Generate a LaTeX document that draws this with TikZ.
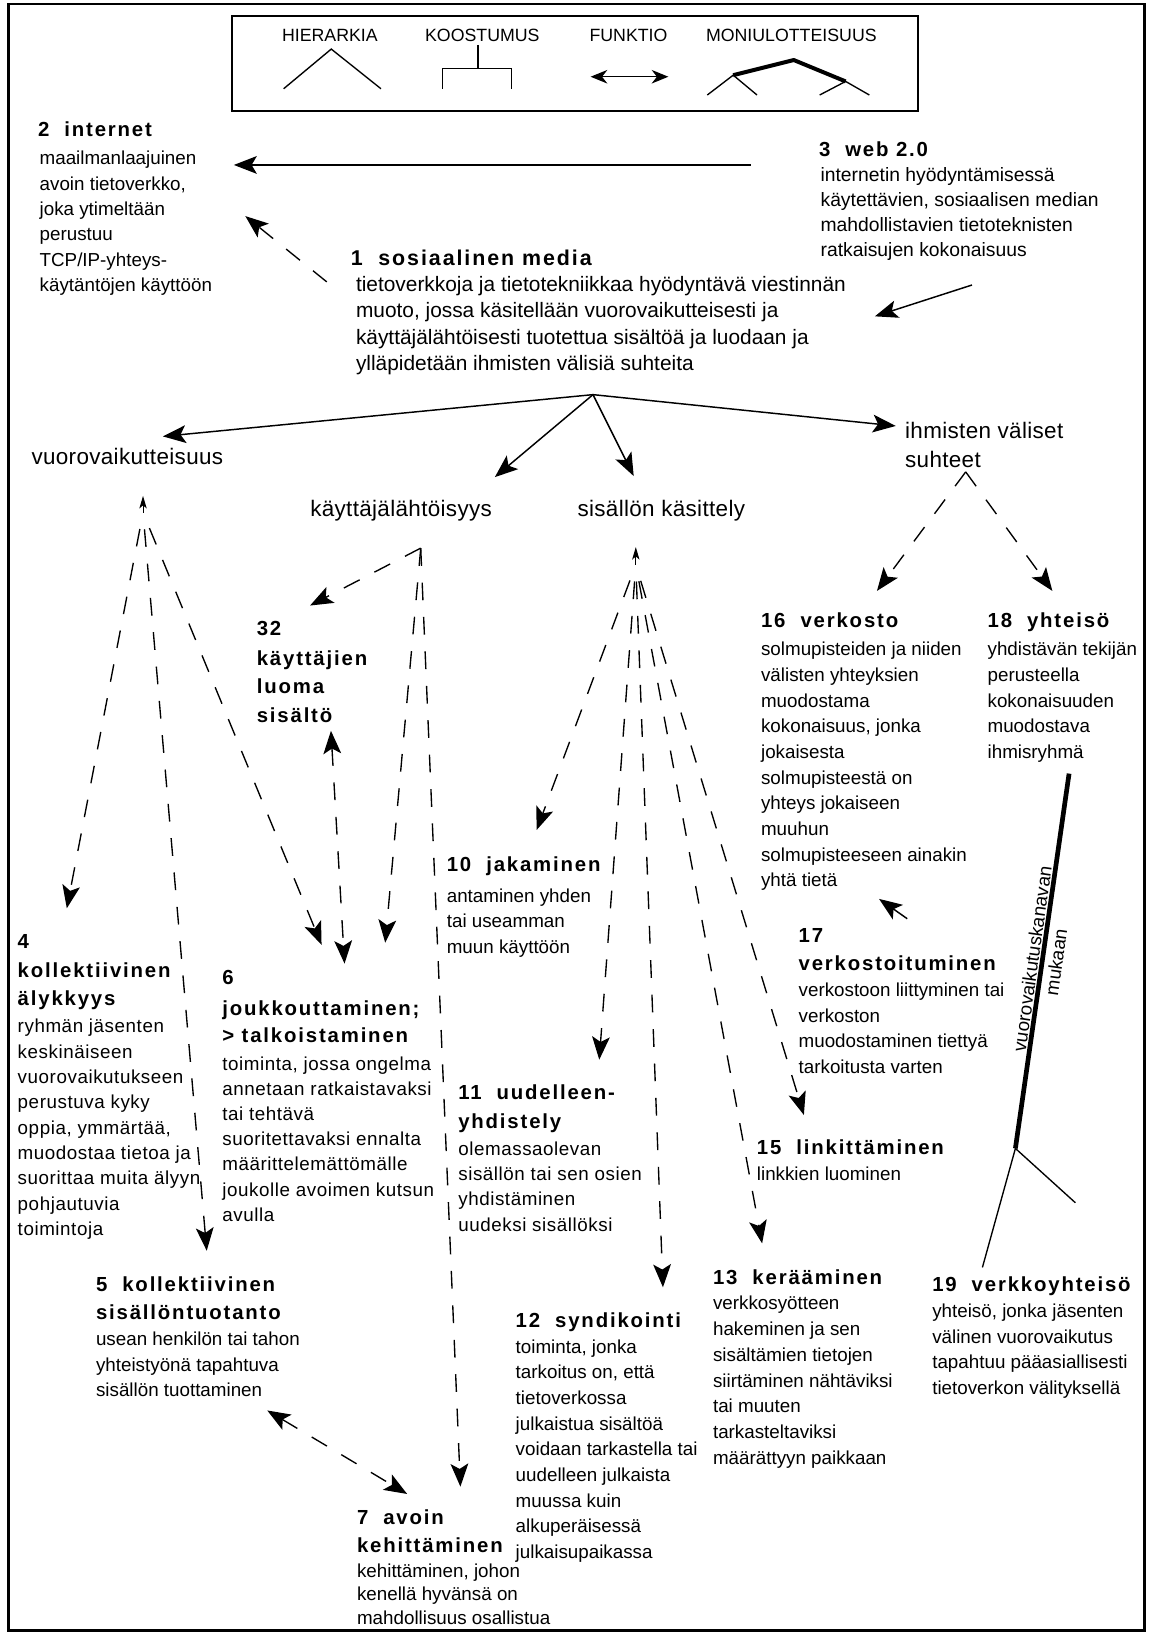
\documentclass[tikz,border=0pt]{standalone}
\usepackage{fontspec}
\setmainfont{Liberation Sans}
\newfontfamily\hdfam[LetterSpace=9]{Liberation Sans}
\newfontfamily\widefam[LetterSpace=3]{Liberation Sans}
\newfontfamily\catfam[LetterSpace=1.5]{Liberation Sans}
\usetikzlibrary{arrows.meta}
\newcommand\hdg{\hdfam\bfseries\fontsize{19.5}{24.5}\selectfont}
\newcommand\fsz[2]{\fontsize{#1}{#2}\selectfont}
\tikzset{
  blk/.style={anchor=north west, inner sep=0pt, outer sep=0pt, align=left},
  cat/.style={anchor=base west, inner sep=0pt, font=\catfam\fsz{21.5}{28}},
  leg/.style={anchor=base, inner sep=0pt, font=\fsz{17}{20}},
  ln/.style={line width=1.3pt},
  bigtip/.tip={Stealth[length=22pt,width=17pt,inset=5pt]},
  solarr/.style={line width=1.4pt, -bigtip},
  dsh/.style={line width=1.3pt, dash pattern=on 17pt off 16pt},
  dsharr/.style={dsh, -bigtip},
  dshbi/.style={dsh, bigtip-bigtip},
  uptip/.style={line width=1pt, -{Stealth[length=12pt,width=7pt,inset=3pt]}},
}
\begin{document}
\begin{tikzpicture}[x=1pt,y=-1pt]
\useasboundingbox (0,0) rectangle (1101,1568);
\fill[white] (0,0) rectangle (1101,1568);
% outer frame and legend box
\draw[line width=2.5pt] (8,4) rectangle (1096,1562);
\draw[line width=2pt] (222,15) rectangle (879,106);

% legend
\node[leg] (lh) at (316,40) {HIERARKIA};
\node[leg] (lk) at (462,40) {KOOSTUMUS};
\node[leg] (lf) at (602,40) {FUNKTIO};
\node[leg] (lm) at (758,40) {MONIULOTTEISUUS};
\draw[ln] (271.7,85) -- (317.3,47) -- (364.9,85);
\draw[ln] (458,43) -- (458,65.5);
\draw[ln] (423.7,85) -- (423.7,65.5) -- (490,65.5) -- (490,85);
\draw[ln, {Stealth[length=16pt,width=13pt,inset=5pt]}-{Stealth[length=16pt,width=13pt,inset=5pt]}] (565.7,73.5) -- (640.2,73.5);
\draw[line width=3.8pt, line join=round] (702.3,72) -- (760.3,57.5) -- (810,78);
\draw[ln] (677.5,91) -- (702.3,72) -- (725.1,91);
\draw[ln] (785.1,91) -- (810,78) -- (832.7,91);

% concept blocks
\node[blk, font=\fsz{18}{24.4}] (n2) at (38,116.5) {{\hdg\kern-1.5pt 2~~internet}\\[2.6pt]
 maailmanlaajuinen\\ avoin tietoverkko,\\ joka ytimeltään\\ perustuu\\ TCP/IP-yhteys-\\ käytäntöjen käyttöön};
\node[blk, font=\fsz{18.5}{24}] (n3) at (786,135.5) {{\hdg\kern-1.5pt 3~~web 2.0}\\
 internetin hyödyntämisessä\\ käytettävien, sosiaalisen median\\ mahdollistavien tietoteknisten\\ ratkaisujen kokonaisuus};
\node[blk, font=\fsz{20}{25.3}] (n1) at (341,239) {{\hdg\fsz{20.5}{25.3}\kern-5pt 1~~sosiaalinen media}\\
 tietoverkkoja ja tietotekniikkaa hyödyntävä viestinnän\\ muoto, jossa käsitellään vuorovaikutteisesti ja\\
 käyttäjälähtöisesti tuotettua sisältöä ja luodaan ja\\ ylläpidetään ihmisten välisiä suhteita};

\node[cat] (vuo) at (30,445) {vuorovaikutteisuus};
\node[cat] (kay) at (297,495) {käyttäjälähtöisyys};
\node[cat] (sis) at (553,495) {sisällön käsittely};
\node[blk, font=\catfam\fsz{21.5}{28}] (ihm) at (867,404) {ihmisten väliset\\ suhteet};

\node[blk, font=\fsz{18}{24.5}] (n32) at (246,595) {{\hdg 32}\\[4pt] {\hdg käyttäjien}\\[3pt] {\hdg luoma}\\[2.5pt] {\hdg sisältö}};
\node[blk, font=\fsz{18}{24.6}] (n16) at (729,587) {{\hdg 16~~verkosto}\\[2.4pt]
 solmupisteiden ja niiden\\ välisten yhteyksien\\ muodostama\\ kokonaisuus, jonka\\ jokaisesta\\ solmupisteestä on\\
 yhteys jokaiseen\\ muuhun\\ solmupisteeseen ainakin\\ yhtä tietä};
\node[blk, font=\fsz{18}{24.6}] (n18) at (946,587) {{\hdg 18~~yhteisö}\\[2.4pt]
 yhdistävän tekijän\\ perusteella\\ kokonaisuuden\\ muodostava\\ ihmisryhmä};
\node[blk, font=\fsz{18}{24.5}] (n10) at (428,821) {{\hdg 10~~jakaminen}\\[4.5pt]
 antaminen yhden\\ tai useamman\\ muun käyttöön};
\node[blk, font=\widefam\fsz{18}{24.25}] (n4) at (17,895) {{\hdg 4}\\[3.25pt] {\hdg kollektiivinen}\\[3.25pt] {\hdg älykkyys}\\[1.75pt]
 ryhmän jäsenten\\ keskinäiseen\\ vuorovaikutukseen\\ perustuva kyky\\ oppia, ymmärtää,\\ muodostaa tietoa ja\\
 suorittaa muita älyyn\\ pohjautuvia\\ toimintoja};
\node[blk, font=\widefam\fsz{18}{24}] (n6) at (213,929) {{\hdg 6}\\[6pt] {\hdg joukkouttaminen;}\\[2pt] {\hdg > talkoistaminen}\\[3pt]
 toiminta, jossa ongelma\\ annetaan ratkaistavaksi\\ tai tehtävä\\ suoritettavaksi ennalta\\ määrittelemättömälle\\
 joukolle avoimen kutsun\\ avulla};
\node[blk, font=\fsz{18}{24.5}] (n17) at (765,889) {{\hdg 17}\\[2.5pt] {\hdg verkostoituminen}\\[0.5pt]
 verkostoon liittyminen tai\\ verkoston\\ muodostaminen tiettyä\\ tarkoitusta varten};
\node[blk, font=\widefam\fsz{18}{24}] (n11) at (439,1039) {{\hdg 11~~uudelleen-}\\[4pt] {\hdg yhdistely}\\[2pt]
 olemassaolevan\\ sisällön tai sen osien\\ yhdistäminen\\ uudeksi sisällöksi};
\node[blk, font=\fsz{18}{24.5}] (n15) at (725,1092) {{\hdg 15~~linkittäminen}\\[0.5pt] linkkien luominen};
\node[blk, font=\fsz{18}{24.6}] (n13) at (683,1216) {{\hdg 13~~kerääminen}\\
 verkkosyötteen\\ hakeminen ja sen\\ sisältämien tietojen\\ siirtäminen nähtäviksi\\ tai muuten\\ tarkasteltaviksi\\ määrättyyn paikkaan};
\node[blk, font=\fsz{18}{24.5}] (n5) at (92,1222.5) {{\hdg 5~~kollektiivinen}\\[2.9pt] {\hdg sisällöntuotanto}\\[0.5pt]
 usean henkilön tai tahon\\ yhteistyönä tapahtuva\\ sisällön tuottaminen};
\node[blk, font=\fsz{18}{24.5}] (n19) at (893,1222.5) {{\hdg 19~~verkkoyhteisö}\\[1pt]
 yhteisö, jonka jäsenten\\ välinen vuorovaikutus\\ tapahtuu pääasiallisesti\\ tietoverkon välityksellä};
\node[blk, font=\fsz{18}{24.6}] (n12) at (494,1257) {{\hdg 12~~syndikointi}\\[0.4pt]
 toiminta, jonka\\ tarkoitus on, että\\ tietoverkossa\\ julkaistua sisältöä\\ voidaan tarkastella tai\\ uudelleen julkaista\\
 muussa kuin\\ alkuperäisessä\\ julkaisupaikassa};
\node[blk, font=\fsz{18}{22.5}] (n7) at (342,1446) {{\hdg 7~~avoin}\\[4.5pt] {\hdg kehittäminen}\\[1pt]
 kehittäminen, johon\\ kenellä hyvänsä on\\ mahdollisuus osallistua};

% connector end points
\coordinate (w2a) at (719,158);   \coordinate (w2b) at (224,158);
\coordinate (w1a) at (931,273);   \coordinate (w1b) at (838,303);
\coordinate (s2a) at (313,270);   \coordinate (s2b) at (235,207);
\coordinate (hub) at (568,378);
\coordinate (tVuo) at (156,418);  \coordinate (tKay) at (474,457);
\coordinate (tSis) at (607,456);  \coordinate (tIhm) at (858,408);
% fan below vuorovaikutteisuus
\coordinate (vTop) at (137,475);  \coordinate (vBase) at (137,491);
\coordinate (t4) at (64,870);     \coordinate (t5) at (198,1198);   \coordinate (t6a) at (308,905);
% fan below kayttajalahtoisyys
\coordinate (kBase) at (403,525);
\coordinate (t32) at (297,580);   \coordinate (t6b) at (369,903);   \coordinate (t7a) at (441,1424);
% 32 <-> 6
\coordinate (u32) at (317,700);   \coordinate (d6) at (330,923);
% fan below sisallon kasittely
\coordinate (sTop) at (609,524);  \coordinate (sBase) at (609,541);
\coordinate (t10) at (514,795);   \coordinate (t11) at (574,1015);  \coordinate (t12) at (635,1233);
\coordinate (t13) at (730,1191);  \coordinate (t15) at (770,1068);
% 5 <-> 7
\coordinate (e5) at (256,1351);   \coordinate (e7) at (390,1431);
% ihmisten valiset suhteet
\coordinate (iBase) at (925,452);
\coordinate (t16) at (840,566);   \coordinate (t18) at (1008,566);
% 17 -> 16
\coordinate (v17) at (869,880);   \coordinate (v16) at (842,861);
% 18 -> 19 multidimensional link
\coordinate (m18) at (1024,741);  \coordinate (mK) at (972.6,1100);
\coordinate (m19) at (941,1214);  \coordinate (mR) at (1030,1152);

% solid arrows
\draw[solarr] (w2a) -- (w2b);
\draw[solarr] (w1a) -- (w1b);
\draw[dsharr] (s2a) -- (s2b);
\draw[solarr] (hub) -- (tVuo);
\draw[solarr] (hub) -- (tKay);
\draw[solarr] (hub) -- (tSis);
\draw[solarr] (hub) -- (tIhm);

% dashed fans
\draw[uptip] (vBase) -- (vTop);
\draw[dsharr, dash phase=17pt] (vBase) -- (t4);
\draw[dsharr, dash phase=17pt] (vBase) -- (t5);
\draw[dsharr, dash phase=17pt] (vBase) -- (t6a);

\draw[dsharr] (kBase) -- (t32);
\draw[dsharr] (kBase) -- (t6b);
\draw[dsharr] (kBase) -- (t7a);

\draw[dshbi] (u32) -- (d6);

\draw[uptip] (sBase) -- (sTop);
\draw[dsharr, dash phase=17pt] (sBase) -- (t10);
\draw[dsharr, dash phase=17pt] (sBase) -- (t11);
\draw[dsharr, dash phase=17pt] (sBase) -- (t12);
\draw[dsharr, dash phase=17pt] (sBase) -- (t13);
\draw[dsharr, dash phase=17pt] (sBase) -- (t15);

\draw[dshbi] (e5) -- (e7);

\draw[dsharr] (iBase) -- (t16);
\draw[dsharr] (iBase) -- (t18);

\draw[solarr] (v17) -- (v16);

\draw[line width=4.5pt] (m18) -- (mK);
\draw[ln] (m19) -- (mK) -- (mR);
\node[rotate=81.9, align=center, inner sep=0pt, font=\fsz{18}{23}] (vk) at (1000,920) {vuorovaikutuskanavan\\ mukaan};
\end{tikzpicture}
\end{document}
